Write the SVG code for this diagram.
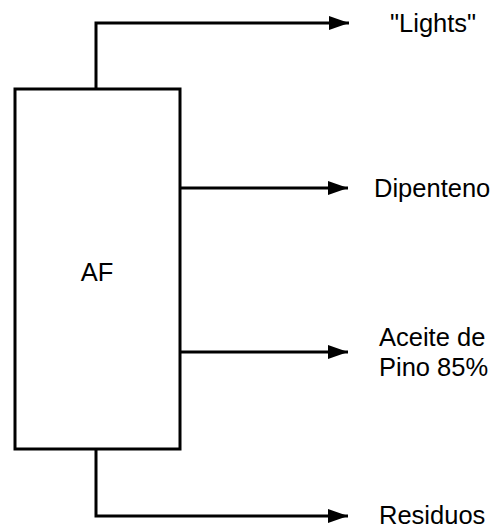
<svg xmlns="http://www.w3.org/2000/svg" width="493" height="527" viewBox="0 0 493 527">
<style>
.ln{fill:none;stroke:#000;stroke-width:3}
.t{font-family:"Liberation Sans",Arial,sans-serif;font-size:25.5px;fill:#000}
</style>
<defs>
<marker id="ah" markerUnits="userSpaceOnUse" markerWidth="20" markerHeight="14" refX="20" refY="7" orient="auto">
<path d="M0,0 L20,7 L0,14 Z" fill="#000"/>
</marker>
</defs>
<rect width="493" height="527" fill="#fff"/>
<g id="connectors">
<path class="ln" d="M96,89 V23 H349" marker-end="url(#ah)"/>
<path class="ln" d="M180,188 H348" marker-end="url(#ah)"/>
<path class="ln" d="M180,352 H348" marker-end="url(#ah)"/>
<path class="ln" d="M96,449 V516 H348" marker-end="url(#ah)"/>
</g>
<g id="AF">
<rect class="ln" x="15" y="89" width="165" height="360"/>
<text class="t" x="97" y="281" text-anchor="middle">AF</text>
</g>
<g id="lights"><text class="t" x="390" y="32">"Lights"</text></g>
<g id="dipenteno"><text class="t" x="374" y="197">Dipenteno</text></g>
<g id="aceite"><text class="t" x="379" y="346">Aceite de</text><text class="t" x="379" y="376">Pino 85%</text></g>
<g id="residuos"><text class="t" x="379" y="524">Residuos</text></g>
</svg>
